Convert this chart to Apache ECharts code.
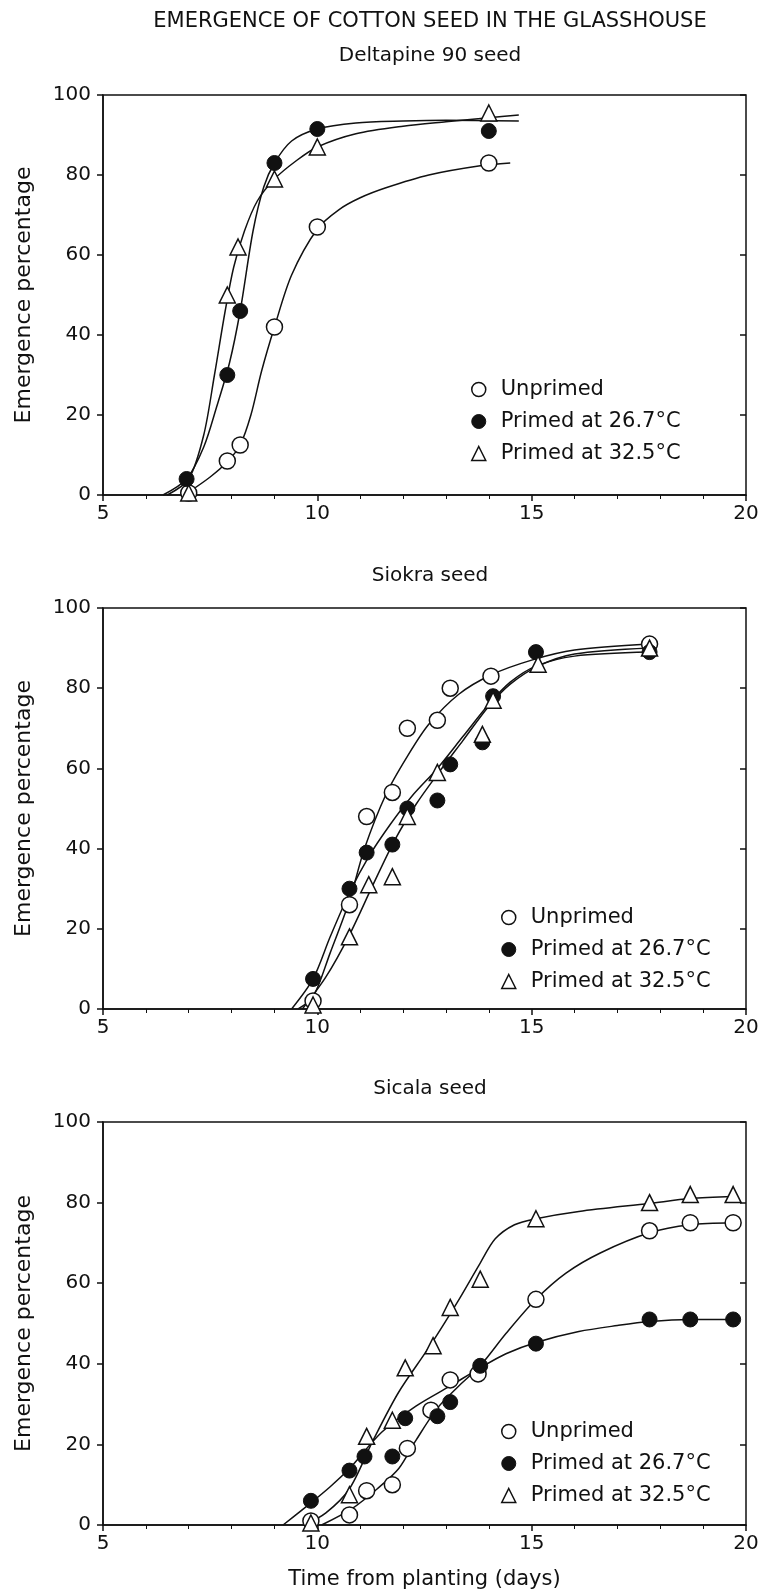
<!DOCTYPE html>
<html lang="en">
<head>
<meta charset="utf-8" />
<title>Emergence of cotton seed in the glasshouse</title>
<script src="https://cdn.jsdelivr.net/npm/echarts@6/dist/echarts.min.js"></script>
<style>
  html, body { margin: 0; padding: 0; background: #fff; }
  #chart { width: 764px; height: 1594px; }
</style>
</head>
<body>
<div id="chart"></div>
<script>
// ---- data: [day, emergence %] ----
// Deltapine 90
var dpUnprimed   = [[7.0,0.5],[7.9,8.5],[8.2,12.5],[9.0,42],[10.0,67],[14.0,83]];
var dpPrimed267  = [[6.95,4],[7.9,30],[8.2,46],[9.0,83],[10.0,91.5],[14.0,91]];
var dpPrimed325  = [[7.0,0.5],[7.9,50],[8.15,62],[9.0,79],[10.0,87],[14.0,95.5]];
var dpUnprimedFit  = [[6.9,0],[7.5,4.5],[7.9,8.3],[8.2,12.5],[8.45,20],[8.7,31],[9.0,42],[9.4,55],[10.0,66.5],[10.5,71.3],[11.0,74.3],[11.6,76.8],[12.6,80],[13.8,82.3],[14.5,83]];
var dpPrimed267Fit = [[6.4,0],[6.95,4],[7.35,12],[7.65,22],[7.95,33],[8.2,46],[8.5,66],[8.75,77],[9.0,83],[9.4,88.5],[10.0,91.5],[10.9,93],[12.0,93.5],[13.0,93.7],[14.7,93.5]];
var dpPrimed325Fit = [[6.5,0],[7.0,4],[7.35,15],[7.6,30],[7.85,46],[8.05,57],[8.3,66],[8.6,73.5],[9.0,79],[9.5,83.5],[10.0,87],[10.9,90.3],[12.0,92.2],[13.0,93.3],[14.0,94.3],[14.7,95]];

// Siokra
var skUnprimed   = [[9.9,2],[10.75,26],[11.15,48],[11.75,54],[12.1,70],[12.8,72],[13.1,80],[14.05,83],[17.75,91]];
var skPrimed267  = [[9.9,7.5],[10.75,30],[11.15,39],[11.75,41],[12.1,50],[12.8,52],[13.1,61],[13.85,66.5],[14.1,78],[15.1,89],[17.75,89]];
var skPrimed325  = [[9.9,1],[10.75,18],[11.2,31],[11.75,33],[12.1,48],[12.8,59],[13.85,68.5],[14.1,77],[15.15,86],[17.75,90]];
var skUnprimedFit  = [[9.55,0],[9.9,3],[10.3,14],[10.75,27],[11.1,40],[11.6,53.5],[12.1,63],[12.6,71],[13.3,78.5],[14.05,83.3],[15.0,87],[16.0,89.5],[17.75,91]];
var skPrimed267Fit = [[9.4,0],[9.9,7.5],[10.3,18],[10.75,29],[11.2,38],[11.7,46],[12.2,53],[12.8,60],[13.4,68],[14.0,76],[14.5,81.5],[15.1,85.5],[16.0,88],[17.75,89]];
var skPrimed325Fit = [[9.65,0],[10.2,8],[10.75,18.5],[11.3,31],[11.8,42],[12.3,51],[12.8,58.5],[13.4,67],[14.0,75.5],[14.5,81],[15.15,85.5],[16.0,88.5],[17.75,90]];

// Sicala
var scUnprimed   = [[9.85,1],[10.75,2.5],[11.15,8.5],[11.75,10],[12.1,19],[12.65,28.5],[13.1,36],[13.75,37.5],[15.1,56],[17.75,73],[18.7,75],[19.7,75]];
var scPrimed267  = [[9.85,6],[10.75,13.5],[11.1,17],[11.75,17],[12.05,26.5],[12.8,27],[13.1,30.5],[13.8,39.5],[15.1,45],[17.75,51],[18.7,51],[19.7,51]];
var scPrimed325  = [[9.85,0.5],[10.75,7.5],[11.15,22],[11.75,26],[12.05,39],[12.7,44.5],[13.1,54],[13.8,61],[15.1,76],[17.75,80],[18.7,82],[19.7,82]];
var scUnprimedFit  = [[10.1,0],[10.8,4],[11.4,9],[11.9,14],[12.3,21],[12.8,29],[13.3,34.5],[13.8,39.5],[14.4,47.5],[15.1,56],[15.8,62.5],[16.6,67.5],[17.75,72.5],[18.7,74.5],[19.7,75]];
var scPrimed267Fit = [[9.2,0],[9.85,5.5],[10.3,9.5],[10.75,14],[11.5,23],[12.3,29.5],[13.1,34.5],[13.8,39],[14.4,42.5],[15.1,45.3],[16.1,48],[17.0,49.5],[17.75,50.5],[18.7,51],[19.7,51]];
var scPrimed325Fit = [[9.7,0],[10.2,3],[10.75,9],[11.3,21],[11.9,33],[12.6,44],[13.25,55],[13.8,65],[14.15,71],[14.6,74.5],[15.1,76],[16.1,77.8],[17.75,79.8],[18.7,81],[19.7,81.5]];

var seedNames = ['Deltapine 90 seed', 'Siokra seed', 'Sicala seed'];
var seriesNames = ['Unprimed', 'Primed at 26.7\u00B0C', 'Primed at 32.5\u00B0C'];
var xTicks = [5, 10, 15, 20];
var yTicks = [0, 20, 40, 60, 80, 100];

var points = [
  [dpUnprimed, dpPrimed267, dpPrimed325],
  [skUnprimed, skPrimed267, skPrimed325],
  [scUnprimed, scPrimed267, scPrimed325]
];
var fits = [
  [dpUnprimedFit, dpPrimed267Fit, dpPrimed325Fit],
  [skUnprimedFit, skPrimed267Fit, skPrimed325Fit],
  [scUnprimedFit, scPrimed267Fit, scPrimed325Fit]
];

// ---- layout ----
var ink = '#111';
var font = 'DejaVu Sans';
var gridTops = [95, 608, 1122];
var gridHeights = [400, 401, 403];
var subTops = [41, 561, 1074];
var legendPos = [[466, 374], [496, 902], [496, 1416]];

var markerStyles = [
  { symbol: 'circle', size: 16, itemStyle: { color: '#fff', borderColor: ink, borderWidth: 1.5, opacity: 1 } },
  { symbol: 'circle', size: 15, itemStyle: { color: ink, borderColor: ink, borderWidth: 1, opacity: 1 } },
  { symbol: 'triangle', size: 16, itemStyle: { color: '#fff', borderColor: ink, borderWidth: 1.5, opacity: 1 } }
];

var chart = echarts.init(document.getElementById('chart'));

var grids = [], xAxes = [], yAxes = [], series = [], titles = [], legends = [];

titles.push({
  text: 'EMERGENCE OF COTTON SEED IN THE GLASSHOUSE',
  left: 425, top: 6, textAlign: 'center',
  textStyle: { fontFamily: font, fontSize: 21, fontWeight: 'normal', color: ink }
});

for (var g = 0; g < 3; g++) {
  grids.push({
    left: 103, width: 643, top: gridTops[g], height: gridHeights[g],
    show: true, borderColor: ink, borderWidth: 1.5, backgroundColor: 'transparent'
  });
  titles.push({
    text: seedNames[g], left: 425, top: subTops[g], textAlign: 'center',
    textStyle: { fontFamily: font, fontSize: 20, fontWeight: 'normal', color: ink }
  });

  var xOuter = {
    gridIndex: g, type: 'value', min: xTicks[0], max: xTicks[xTicks.length - 1], interval: 5,
    axisLine: { show: true, onZero: false, lineStyle: { color: ink, width: 1.5 } },
    axisTick: { show: true, length: 6, lineStyle: { color: ink, width: 1.5 } },
    axisLabel: { fontFamily: font, fontSize: 20, color: ink, margin: 9 },
    splitLine: { show: false }
  };
  if (g === 2) {
    xOuter.name = 'Time from planting (days)';
    xOuter.nameLocation = 'middle';
    xOuter.nameGap = 44;
    xOuter.nameTextStyle = { fontFamily: font, fontSize: 21, color: ink };
  }
  xAxes.push(xOuter);
  xAxes.push({
    gridIndex: g, type: 'value', min: 5, max: 20, interval: 5,
    axisLine: { show: false },
    axisTick: { show: true, inside: true, length: 6, lineStyle: { color: ink, width: 1.5 } },
    minorTick: { show: true, splitNumber: 5, length: 4, lineStyle: { color: ink, width: 1 } },
    axisLabel: { show: false }, splitLine: { show: false }
  });

  yAxes.push({
    gridIndex: g, type: 'value', min: yTicks[0], max: yTicks[yTicks.length - 1], interval: 20,
    axisLine: { show: true, onZero: false, lineStyle: { color: ink, width: 1.5 } },
    axisTick: { show: true, length: 6, lineStyle: { color: ink, width: 1.5 } },
    axisLabel: { fontFamily: font, fontSize: 20, color: ink, margin: 12 },
    splitLine: { show: false },
    name: 'Emergence percentage', nameLocation: 'middle', nameGap: 68,
    nameTextStyle: { fontFamily: font, fontSize: 22, color: ink }
  });
  yAxes.push({
    gridIndex: g, type: 'value', min: 0, max: 100, interval: 20,
    axisLine: { show: false },
    axisTick: { show: true, inside: true, length: 6, lineStyle: { color: ink, width: 1.5 } },
    axisLabel: { show: false }, splitLine: { show: false }
  });

  for (var s = 0; s < 3; s++) {
    series.push({
      type: 'line', name: 'fit', xAxisIndex: g * 2, yAxisIndex: g * 2,
      data: fits[g][s], smooth: 0.3, symbol: 'none',
      lineStyle: { color: ink, width: 1.5 }, z: 2, silent: true
    });
  }
  for (var s = 0; s < 3; s++) {
    var m = markerStyles[s];
    series.push({
      type: 'scatter', name: seriesNames[s], xAxisIndex: g * 2, yAxisIndex: g * 2,
      data: points[g][s], symbol: m.symbol, symbolSize: m.size,
      itemStyle: m.itemStyle, z: 3 + s
    });
  }

  legends.push({
    orient: 'vertical', left: legendPos[g][0], top: legendPos[g][1],
    itemWidth: 14, itemHeight: 14, itemGap: 11,
    textStyle: { fontFamily: font, fontSize: 21, color: ink, lineHeight: 21, padding: [0, 0, 0, 10] },
    data: seriesNames.map(function (n, i) {
      return { name: n, icon: markerStyles[i].symbol, itemStyle: markerStyles[i].itemStyle };
    })
  });
}

var option = {
  backgroundColor: '#fff',
  animation: false,
  title: titles,
  grid: grids,
  xAxis: xAxes,
  yAxis: yAxes,
  legend: legends,
  series: series
};
chart.setOption(option);
</script>
</body>
</html>
